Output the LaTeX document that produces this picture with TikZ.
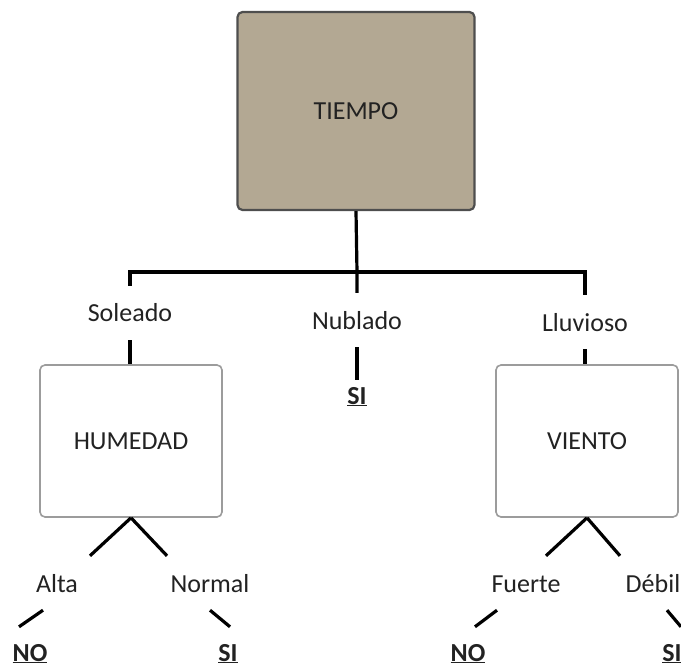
\documentclass[tikz,border=0pt]{standalone}
\usepackage{fontspec}
\setmainfont{Carlito}
\definecolor{raiz}{HTML}{B3A893}
\definecolor{borde}{HTML}{4E4E4E}
\definecolor{gris}{HTML}{9C9C9C}
\definecolor{texto}{HTML}{222222}
\begin{document}
\begin{tikzpicture}[x=1pt,y=-1pt,
  font=\fontsize{26}{30}\selectfont,text=texto,
  root/.style={draw=borde,line width=2.2pt,fill=raiz,rounded corners=5pt,minimum width=237pt,minimum height=198pt},
  attr/.style={draw=gris,line width=1.6pt,fill=white,rounded corners=5pt,minimum width=182pt,minimum height=152pt},
  lbl/.style={inner sep=0pt,minimum height=54pt,text height=18pt,text depth=0pt},
  leaf/.style={inner sep=0pt,minimum height=50pt,text height=18pt,text depth=0pt,font=\fontsize{26}{30}\selectfont\bfseries},
  rama/.style={line width=3.2pt}]
\useasboundingbox (0,0) rectangle (681,666);
\node[root] (tiempo) at (356,111) {TIEMPO};
\coordinate (j) at (357,272);
\coordinate (jl) at (130,272);
\coordinate (jr) at (585,272);
\node[lbl] (soleado) at (130,313) {Soleado};
\node[lbl] (nublado) at (357,320) {Nublado};
\node[lbl] (lluvioso) at (585,322) {Lluvioso};
\node[attr] (humedad) at (131,441) {HUMEDAD};
\node[attr] (viento) at (587,441) {VIENTO};
\node[leaf] (si0) at (357,395) {\underline{SI}};
\node[lbl] (alta) at (57,583) {Alta};
\node[lbl] (normal) at (210,583) {Normal};
\node[lbl] (fuerte) at (526,583) {Fuerte};
\node[lbl] (debil) at (653,583) {Débil};
\node[leaf] (no1) at (30,652) {\underline{NO}};
\node[leaf] (si1) at (228,652) {\underline{SI}};
\node[leaf] (no2) at (468,652) {\underline{NO}};
\node[leaf] (si2) at (672,652) {\underline{SI}};
\draw[rama] (tiempo.south) -- (j) -- (nublado.north);
\draw[rama] (soleado.north) -- (jl) -- (jr) -- (lluvioso.north);
\draw[rama] (soleado.south) -- (soleado.south |- humedad.north);
\draw[rama] (lluvioso.south) -- (lluvioso.south |- viento.north);
\draw[rama,shorten >=-10pt] (nublado.south) -- (si0.north);
\draw[rama] (humedad.south) -- ([xshift=33pt]alta.north);
\draw[rama] (humedad.south) -- ([xshift=-43pt]normal.north);
\draw[rama] (viento.south) -- ([xshift=20pt]fuerte.north);
\draw[rama] (viento.south) -- ([xshift=-33pt]debil.north);
\draw[rama] ([xshift=-14pt]alta.south) -- ([xshift=-11pt]no1.north);
\draw[rama] (normal.south) -- ([xshift=2pt]si1.north);
\draw[rama] ([xshift=-29pt]fuerte.south) -- ([xshift=7pt]no2.north);
\draw[rama] ([xshift=14pt]debil.south) -- ([xshift=9pt]si2.north);
\end{tikzpicture}
\end{document}
